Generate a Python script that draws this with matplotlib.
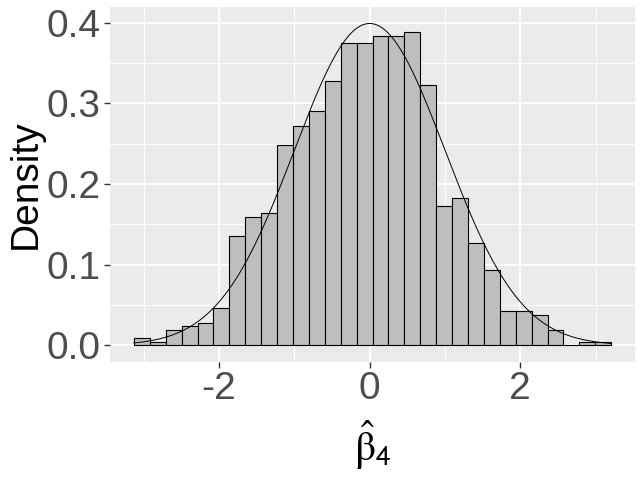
import numpy as np
import matplotlib
matplotlib.use("Agg")
import matplotlib.pyplot as plt
from matplotlib.ticker import FixedLocator

# ---- data ----
bin_start = -3.132
bin_width = 0.2113
densities = [0.0087, 0.0037, 0.0186, 0.0236, 0.0277, 0.0459, 0.1351, 0.1587,
             0.1636, 0.2479, 0.2715, 0.2901, 0.3277, 0.3744, 0.3744, 0.3835,
             0.3835, 0.3880, 0.3223, 0.1723, 0.1822, 0.1264, 0.0930, 0.0421,
             0.0421, 0.0376, 0.0186, 0.0000, 0.0037, 0.0037]
x_ticks = [-2, 0, 2]
x_tick_labels = ["-2", "0", "2"]
y_ticks = [0.0, 0.1, 0.2, 0.3, 0.4]
y_tick_labels = ["0.0", "0.1", "0.2", "0.3", "0.4"]

plt.rcParams['font.family'] = ['Liberation Sans', 'DejaVu Sans']
plt.rcParams['mathtext.fontset'] = 'stix'

W, H = 643, 483
fig = plt.figure(figsize=(W / 100, H / 100), dpi=100)
ax = fig.add_axes([110 / W, (H - 361.5) / H, (635 - 110) / W, (361.5 - 7.4) / H])

ax.set_facecolor("#EBEBEB")
for s in ax.spines.values():
    s.set_visible(False)

n = len(densities)
lefts = bin_start + bin_width * np.arange(n)
ax.bar(lefts, densities, width=bin_width, align='edge', color="#BEBEBE",
       edgecolor="black", linewidth=0.8, zorder=3)

x_end = bin_start + bin_width * n
xs = np.linspace(bin_start, x_end, 400)
ax.plot(xs, np.exp(-xs ** 2 / 2) / np.sqrt(2 * np.pi), color="black", lw=0.7, zorder=4)

xr = x_end - bin_start
ax.set_xlim(bin_start - 0.05 * xr, x_end + 0.05 * xr)
ymax = 0.3989
ax.set_ylim(-0.05 * ymax, ymax * 1.05)

ax.set_xticks(x_ticks)
ax.set_xticklabels(x_tick_labels)
ax.set_yticks(y_ticks)
ax.set_yticklabels(y_tick_labels)
ax.xaxis.set_minor_locator(FixedLocator([-3, -1, 1, 3]))
ax.yaxis.set_minor_locator(FixedLocator([0.05, 0.15, 0.25, 0.35]))
ax.grid(which='major', color='white', lw=1.4, zorder=0)
ax.grid(which='minor', color='white', lw=0.7, zorder=0)
ax.set_axisbelow(True)
ax.tick_params(which='major', length=4, width=1, color='#333333',
               labelsize=28, labelcolor='#4D4D4D', pad=3)
ax.tick_params(which='minor', length=0)

ax.set_ylabel("Density", fontsize=28, color='black')
ax.yaxis.label.set_va('center')
ax.yaxis.set_label_coords((26 - 110) / (635 - 110), 0.5)
ax.set_xlabel(r"$\hat{\mathrm{\beta}}_\mathsf{4}$", fontsize=30, color='black')
ax.xaxis.label.set_va('center')
ax.xaxis.set_label_coords(0.5, -(445 - 361.5) / (361.5 - 7.4))

fig.savefig("out.png", dpi=100)
